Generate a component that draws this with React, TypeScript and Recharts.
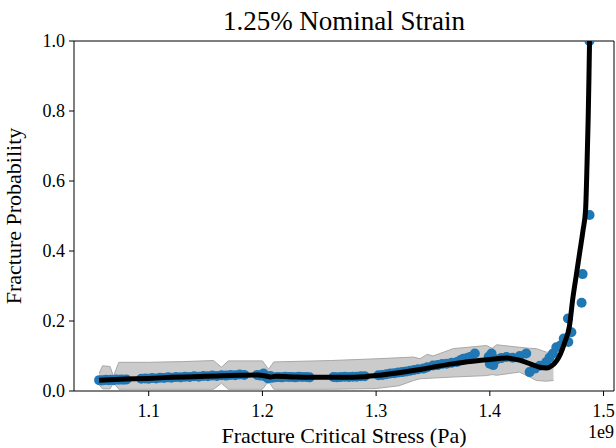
import React from 'react'
import { ComposedChart, Area, Scatter, XAxis, YAxis, ReferenceLine } from 'recharts'

const FONT = '"Liberation Serif", "Times New Roman", serif'

// observed fractures: critical stress (x 1e9 Pa) and probability
const sampleStress = [
  1.0564, 1.0585, 1.0605, 1.0625, 1.0648, 1.0667, 1.069, 1.0712, 1.0735, 1.0758, 1.078, 1.0805,
  1.0935, 1.097, 1.1, 1.103, 1.1065, 1.11, 1.1135, 1.117, 1.12, 1.124, 1.128, 1.132, 1.136, 1.14,
  1.144, 1.148, 1.152, 1.156, 1.16, 1.164, 1.168, 1.172, 1.176, 1.18, 1.184,
  1.1955, 1.1985, 1.201, 1.203, 1.205, 1.207, 1.2085,
  1.211, 1.214, 1.217, 1.22, 1.223, 1.226, 1.229, 1.232, 1.235, 1.2385, 1.2415,
  1.2625, 1.2655, 1.269, 1.2725, 1.276, 1.2795, 1.283, 1.2865, 1.29,
  1.302, 1.3055, 1.309, 1.3125, 1.316, 1.3195, 1.323, 1.3265, 1.33, 1.3335, 1.337, 1.3415,
  1.345, 1.35, 1.354, 1.358, 1.362, 1.3665, 1.371, 1.374, 1.3766, 1.38, 1.3825, 1.3868,
  1.399, 1.4, 1.4015, 1.403, 1.406, 1.41, 1.4146, 1.42, 1.4263, 1.432, 1.435, 1.4395, 1.444,
  1.4497, 1.4525, 1.4555, 1.4585, 1.462, 1.465, 1.469, 1.4717, 1.4687, 1.4807, 1.4816, 1.4877, 1.4876,
]
const sampleProb = [
  0.031, 0.03, 0.031, 0.032, 0.031, 0.032, 0.031, 0.033, 0.032, 0.033, 0.032, 0.033,
  0.035, 0.036, 0.035, 0.037, 0.036, 0.038, 0.037, 0.039, 0.038, 0.04, 0.039, 0.041, 0.04, 0.042,
  0.041, 0.043, 0.042, 0.044, 0.043, 0.045, 0.044, 0.046, 0.045, 0.047, 0.046,
  0.046, 0.044, 0.05, 0.041, 0.036, 0.043, 0.038,
  0.039, 0.04, 0.039, 0.041, 0.04, 0.04, 0.039, 0.041, 0.04, 0.04, 0.039,
  0.04, 0.039, 0.04, 0.041, 0.04, 0.041, 0.041, 0.042, 0.042,
  0.045, 0.046, 0.048, 0.05, 0.051, 0.053, 0.054, 0.056, 0.058, 0.06, 0.062, 0.064,
  0.068, 0.073, 0.074, 0.077, 0.078, 0.081, 0.083, 0.088, 0.092, 0.094, 0.097, 0.107,
  0.098, 0.078, 0.107, 0.074, 0.09, 0.094, 0.097, 0.095, 0.1, 0.107, 0.054, 0.064, 0.072,
  0.083, 0.095, 0.107, 0.125, 0.13, 0.15, 0.14, 0.168, 0.207, 0.252, 0.334, 0.503, 1.0,
]

// smoothed fit
const fitStress = [
  1.0564, 1.08, 1.1, 1.12, 1.14, 1.16, 1.18, 1.195, 1.203, 1.207, 1.212, 1.23, 1.25, 1.27, 1.29,
  1.305, 1.32, 1.34, 1.355, 1.37, 1.385, 1.4, 1.415, 1.426, 1.436, 1.444, 1.45, 1.455, 1.462,
  1.466, 1.47, 1.473, 1.476, 1.479, 1.482, 1.4842, 1.4855, 1.4865, 1.4872, 1.4877,
]
const fitProb = [
  0.031, 0.034, 0.036, 0.039, 0.041, 0.043, 0.045, 0.046, 0.043, 0.04, 0.042, 0.04, 0.039, 0.039, 0.041,
  0.046, 0.052, 0.062, 0.071, 0.079, 0.085, 0.09, 0.094, 0.088, 0.077, 0.068, 0.066, 0.073, 0.105,
  0.14, 0.185, 0.265, 0.33, 0.395, 0.46, 0.517, 0.65, 0.78, 0.9, 1.0,
]

// confidence band around the fit
const bandStress = [
  1.0564, 1.0594, 1.066, 1.069, 1.0737, 1.1, 1.13, 1.157, 1.164, 1.17, 1.2, 1.2054, 1.21, 1.26,
  1.3, 1.32, 1.333, 1.3386, 1.345, 1.35, 1.3678, 1.397, 1.402, 1.406, 1.426, 1.435, 1.441, 1.4497, 1.456,
]
const bandLow = [
  0.018, 0.006, 0.006, 0.024, 0.005, 0.005, 0.005, 0.005, 0.022, 0.005, 0.005, 0.028, 0.005, 0.005,
  0.007, 0.015, 0.03, 0.035, 0.036, 0.037, 0.04, 0.044, 0.047, 0.045, 0.054, 0.04, 0.03, 0.028, 0.03,
]
const bandHigh = [
  0.05, 0.072, 0.07, 0.042, 0.082, 0.082, 0.084, 0.087, 0.068, 0.086, 0.086, 0.062, 0.083, 0.087,
  0.092, 0.095, 0.097, 0.092, 0.105, 0.1, 0.121, 0.13, 0.122, 0.132, 0.125, 0.122, 0.121, 0.111, 0.11,
]

const xTicks = [1.1, 1.2, 1.3, 1.4, 1.5]
const yTicks = [0, 0.2, 0.4, 0.6, 0.8, 1.0]
const X_MIN = 1.0343
const X_MAX = 1.5092

const samples = sampleStress.map((x, i) => ({ x, y: sampleProb[i] }))
const fit = fitStress.map((x, i) => ({ x, y: fitProb[i] }))
const band = bandStress.map((x, i) => ({ x, band: [bandLow[i], bandHigh[i]] }))

// serif tick labels, one decimal place
const XTick = (props: any) => (
  <text x={props.x} y={props.y} dy="0.71em" textAnchor="middle" fill="#000" fontSize={18} fontFamily={FONT}>
    {props.payload.value.toFixed(1)}
  </text>
)
const YTick = (props: any) => (
  <text x={props.x} y={props.y} dy="0.35em" textAnchor="end" fill="#000" fontSize={18} fontFamily={FONT}>
    {props.payload.value.toFixed(1)}
  </text>
)

const Dot = (props: any) => <circle cx={props.cx} cy={props.cy} r={5} fill="#1f77b4" />
const NoDot = () => <g />

export default function App() {
  return (
    <div
      style={{
        position: 'absolute',
        left: 0,
        top: 0,
        width: 616,
        height: 448,
        background: '#fff',
        fontFamily: FONT,
      }}
    >
      <ComposedChart width={616} height={448} margin={{ top: 41, right: 2, bottom: 0, left: 0 }}>
        <XAxis
          type="number"
          dataKey="x"
          domain={[X_MIN, X_MAX]}
          allowDataOverflow
          ticks={xTicks}
          tick={XTick}
          tickSize={5}
          tickMargin={8}
          height={57}
          stroke="#000"
        />
        <YAxis
          type="number"
          domain={[0, 1]}
          allowDataOverflow
          ticks={yTicks}
          tick={YTick}
          tickSize={5}
          tickMargin={4}
          width={74}
          stroke="#000"
        />
        <ReferenceLine y={1} stroke="#000" />
        <ReferenceLine x={X_MAX} stroke="#000" />
        <Area
          data={band}
          dataKey="band"
          type="linear"
          fill="#cbcbcb"
          fillOpacity={1}
          stroke="#a8a8a8"
          strokeWidth={1}
          isAnimationActive={false}
        />
        <Scatter data={samples} dataKey="y" shape={Dot} isAnimationActive={false} />
        {/* fit curve drawn as a scatter line so it sits above the samples */}
        <Scatter
          data={fit}
          dataKey="y"
          shape={NoDot}
          line={{ stroke: '#000', strokeWidth: 5 }}
          lineJointType="monotoneX"
          isAnimationActive={false}
        />
      </ComposedChart>
      <svg
        width={616}
        height={448}
        style={{ position: 'absolute', left: 0, top: 0, pointerEvents: 'none' }}
        fontFamily={FONT}
      >
        <text x={344} y={30} textAnchor="middle" fontSize={27}>1.25% Nominal Strain</text>
        <text x={344} y={443} textAnchor="middle" fontSize={22}>Fracture Critical Stress (Pa)</text>
        <text x={614} y={438} textAnchor="end" fontSize={18}>1e9</text>
        <text x={21} y={216} textAnchor="middle" fontSize={22} transform="rotate(-90 21 216)">
          Fracture Probability
        </text>
      </svg>
    </div>
  )
}
